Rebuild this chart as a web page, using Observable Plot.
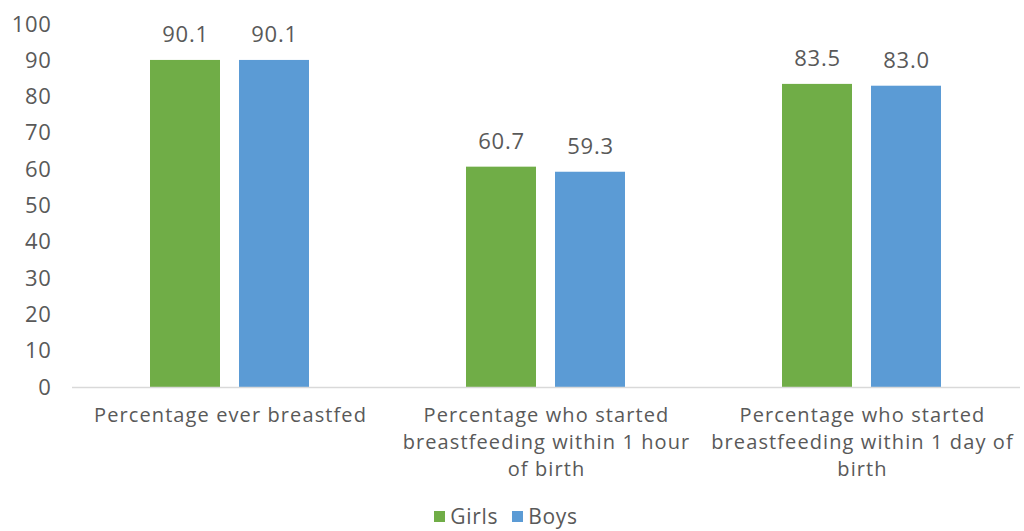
<!DOCTYPE html>
<html><head><meta charset="utf-8">
<script src="https://cdn.jsdelivr.net/npm/d3@7"></script>
<script src="https://cdn.jsdelivr.net/npm/@observablehq/plot@0.6"></script>
<style>
body{margin:0;background:#fff;font-family:"Open Sans",sans-serif;color:#595959;overflow:hidden}
#chart svg{display:block}
svg text{letter-spacing:0.7px}
svg g[aria-label="fx-axis tick label"] text{letter-spacing:1.1px}
#legend{display:flex;justify-content:center;align-items:center;gap:14px;font-size:21px;letter-spacing:0.7px;line-height:28px;height:28px;margin-top:2px;padding-right:12px}
#legend .item{display:flex;align-items:center;gap:5px}
#legend .sw{display:inline-block;width:11px;height:11px}
</style></head><body>
<div id="chart"></div><div id="legend"></div>
<script>
const categories = ["Percentage ever breastfed","Percentage who started breastfeeding within 1 hour of birth","Percentage who started breastfeeding within 1 day of birth"];
const categoryLabels = ["Percentage ever breastfed","Percentage who started\nbreastfeeding within 1 hour\nof birth","Percentage who started\nbreastfeeding within 1 day of\nbirth"];
const series = ["Girls","Boys"];
const girls = [90.1, 60.7, 83.5];
const boys = [90.1, 59.3, 83.0];
const colors = ["#70AD47","#5B9BD5"];
const yTicks = [0,10,20,30,40,50,60,70,80,90,100];

const data = categories.flatMap((c,i)=>[
  {category:c, sex:"Girls", value:girls[i]},
  {category:c, sex:"Boys", value:boys[i]}
]);
const labelOf = new Map(categories.map((c,i)=>[c,categoryLabels[i]]));
const font = '"Open Sans", sans-serif';

const chart = Plot.plot({
  width:1024, height:500,
  marginLeft:71, marginRight:3, marginTop:24, marginBottom:113,
  style:{fontFamily:font, color:"#595959", fontSize:"22px", background:"#fff"},
  fx:{domain:categories, padding:0, label:null},
  x:{domain:series, paddingInner:0.211, paddingOuter:0.864, axis:null},
  y:{domain:[0,100], label:null},
  color:{domain:series, range:colors},
  marks:[
    Plot.axisY({ticks:yTicks, tickSize:0, tickPadding:21, fontSize:22, label:null, fill:"#595959"}),
    Plot.axisFx({anchor:"bottom", tickSize:0, tickPadding:15, tickFormat:c=>labelOf.get(c), lineHeight:1.36, fontSize:20, label:null, fill:"#595959"}),
    Plot.barY(data,{fx:"category", x:"sex", y:"value", fill:"sex"}),
    Plot.text(data,{fx:"category", x:"sex", y:"value", text:d=>d.value.toFixed(1), dy:-25, fontSize:22, fill:"#595959"}),
    Plot.ruleY([0],{stroke:"#d9d9d9", strokeWidth:1.5})
  ]
});
document.getElementById("chart").appendChild(chart);

const legend = document.getElementById("legend");
series.forEach((s,i)=>{
  const item = document.createElement("span");
  item.className = "item";
  const sw = document.createElement("span");
  sw.className = "sw"; sw.style.background = colors[i];
  const t = document.createElement("span"); t.textContent = s;
  item.appendChild(sw); item.appendChild(t);
  legend.appendChild(item);
});
</script>
</body></html>
